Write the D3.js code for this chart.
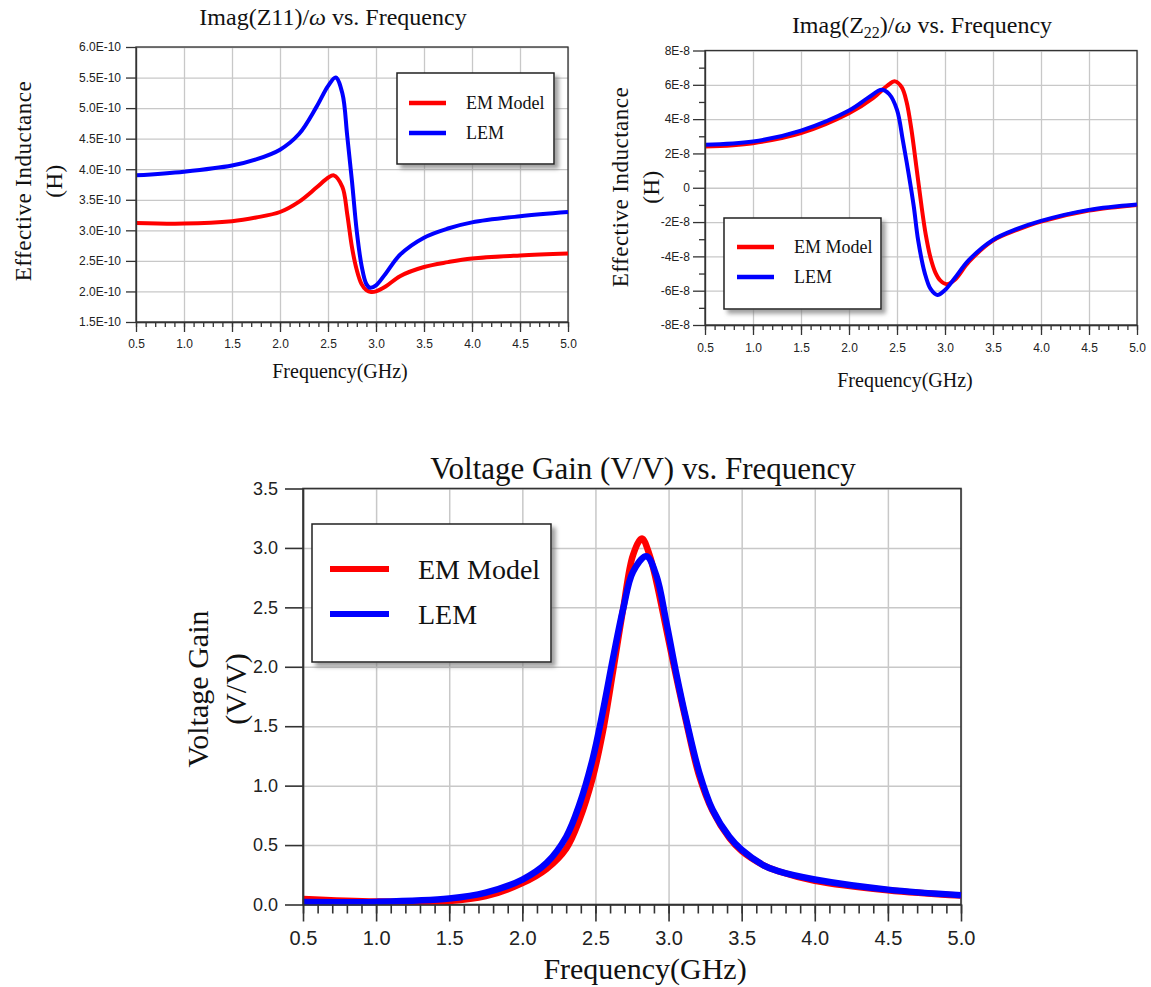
<!DOCTYPE html>
<html>
<head>
<meta charset="utf-8">
<script src="https://cdn.jsdelivr.net/npm/d3@7"></script>
<style>
  body { margin: 0; background: #fff; }
  svg { display: block; }
</style>
</head>
<body>
<svg width="1151" height="987"></svg>
<script>
// ---------------- data ----------------
var xTicks = [0.5, 1.0, 1.5, 2.0, 2.5, 3.0, 3.5, 4.0, 4.5, 5.0];
var xMinorTicks = d3.range(5, 51).map(function (d) { return d / 10; });

// Imag(Z11)/w  (values in 1E-10 H)
var z11Ticks = [1.5, 2.0, 2.5, 3.0, 3.5, 4.0, 4.5, 5.0, 5.5, 6.0];
var z11EmFreq = [0.5, 1.0, 1.5, 1.75, 2.0, 2.2, 2.38, 2.5, 2.56, 2.65, 2.7, 2.75, 2.8, 2.85, 2.9, 2.95, 3.0, 3.1, 3.25, 3.5, 3.75, 4.0, 4.5, 5.0];
var z11EmVal  = [3.12, 3.11, 3.15, 3.21, 3.30, 3.47, 3.70, 3.86, 3.90, 3.71, 3.27, 2.72, 2.35, 2.12, 2.02, 1.99, 2.00, 2.08, 2.25, 2.40, 2.48, 2.54, 2.59, 2.62];
var z11LemFreq = [0.5, 1.0, 1.5, 1.75, 2.0, 2.2, 2.38, 2.5, 2.58, 2.65, 2.7, 2.75, 2.8, 2.85, 2.9, 2.94, 3.0, 3.1, 3.25, 3.5, 3.75, 4.0, 4.5, 5.0];
var z11LemVal  = [3.90, 3.96, 4.06, 4.16, 4.32, 4.58, 5.02, 5.36, 5.50, 5.24, 4.55, 3.80, 2.98, 2.42, 2.12, 2.06, 2.10, 2.29, 2.60, 2.88, 3.03, 3.13, 3.23, 3.30];

// Imag(Z22)/w  (values in 1E-8 H)
var z22Ticks = [-8, -6, -4, -2, 0, 2, 4, 6, 8];
var z22MinorTicks = [-7, -5, -3, -1, 1, 3, 5, 7];
var z22EmFreq = [0.5, 1.0, 1.5, 2.0, 2.25, 2.4, 2.48, 2.55, 2.6, 2.65, 2.7, 2.75, 2.8, 2.85, 2.9, 2.95, 3.02, 3.1, 3.25, 3.5, 3.75, 4.0, 4.5, 5.0];
var z22EmVal  = [2.40, 2.60, 3.18, 4.34, 5.22, 5.95, 6.20, 5.85, 5.00, 3.40, 1.30, -0.85, -2.75, -4.10, -4.95, -5.40, -5.62, -5.38, -4.31, -3.08, -2.46, -1.97, -1.33, -1.00];
var z22LemFreq = [0.5, 1.0, 1.5, 2.0, 2.2, 2.34, 2.42, 2.5, 2.56, 2.62, 2.675, 2.72, 2.79, 2.85, 2.92, 3.0, 3.1, 3.25, 3.5, 3.75, 4.0, 4.5, 5.0];
var z22LemVal  = [2.50, 2.69, 3.33, 4.50, 5.25, 5.71, 5.45, 4.54, 2.79, 0.85, -1.10, -3.05, -4.99, -5.90, -6.25, -5.96, -5.28, -4.21, -3.04, -2.40, -1.93, -1.29, -0.98];

// Voltage gain (V/V)
var gainTicks = [0.0, 0.5, 1.0, 1.5, 2.0, 2.5, 3.0, 3.5];
var gainEmFreq = [0.5, 1.0, 1.5, 1.75, 2.0, 2.166, 2.3, 2.39, 2.48, 2.55, 2.62, 2.69, 2.757, 2.818, 2.87, 2.916, 2.984, 3.05, 3.12, 3.21, 3.3, 3.416, 3.5, 3.65, 3.75, 4.0, 4.5, 5.0];
var gainEmVal  = [0.047, 0.025, 0.03, 0.07, 0.18, 0.30, 0.47, 0.71, 1.06, 1.45, 1.96, 2.49, 2.94, 3.08, 2.94, 2.72, 2.32, 1.93, 1.54, 1.08, 0.79, 0.56, 0.45, 0.33, 0.28, 0.20, 0.12, 0.075];
var gainLemFreq = [0.5, 1.0, 1.5, 1.75, 2.0, 2.166, 2.3, 2.39, 2.48, 2.55, 2.62, 2.69, 2.757, 2.848, 2.916, 2.984, 3.05, 3.12, 3.21, 3.3, 3.416, 3.5, 3.65, 3.75, 4.0, 4.5, 5.0];
var gainLemVal  = [0.02, 0.022, 0.05, 0.10, 0.21, 0.35, 0.57, 0.84, 1.22, 1.62, 2.07, 2.49, 2.80, 2.93, 2.77, 2.38, 1.96, 1.56, 1.11, 0.80, 0.57, 0.46, 0.33, 0.28, 0.21, 0.125, 0.078];

var seriesNames = ["EM Model", "LEM"];
var seriesColors = ["#ff0000", "#0000ff"];

// ---------------- drawing ----------------
var svg = d3.select("svg");
var SERIF = "'Liberation Serif', 'Times New Roman', serif";
var SANS = "'Liberation Sans', Arial, sans-serif";

var defs = svg.append("defs");
defs.append("filter").attr("id", "shadow")
  .attr("x", "-10%").attr("y", "-10%").attr("width", "130%").attr("height", "130%")
  .append("feDropShadow")
  .attr("dx", 4).attr("dy", 4).attr("stdDeviation", 2)
  .attr("flood-color", "#777").attr("flood-opacity", 0.7);

function drawPanel(p) {
  var g = svg.append("g");
  var h = p.bottom - p.top;
  var w = p.right - p.left;
  var x = d3.scaleLinear().domain([0.5, 5]).range([p.left, p.right]);
  var y = d3.scaleLinear().domain(p.yDomain).range([p.bottom, p.top]);

  // grid
  g.append("g").attr("transform", "translate(0," + p.bottom + ")")
    .call(d3.axisBottom(x).tickValues(xTicks).tickSize(-h).tickFormat(""))
    .call(function (s) { s.select(".domain").remove(); })
    .selectAll("line").attr("stroke", "#c8c8c8").attr("stroke-width", p.gridW);
  g.append("g").attr("transform", "translate(" + p.left + ",0)")
    .call(d3.axisLeft(y).tickValues(p.yTicks).tickSize(-w).tickFormat(""))
    .call(function (s) { s.select(".domain").remove(); })
    .selectAll("line").attr("stroke", "#c8c8c8").attr("stroke-width", p.gridW);

  // frame
  g.append("rect")
    .attr("x", p.left).attr("y", p.top).attr("width", w).attr("height", h)
    .attr("fill", "none").attr("stroke", "#333").attr("stroke-width", p.axisW);

  // curves
  var line = d3.line()
    .x(function (d) { return x(d[0]); })
    .y(function (d) { return y(d[1]); })
    .curve(d3.curveCatmullRom.alpha(0.5));
  p.series.forEach(function (s, i) {
    g.append("path")
      .datum(d3.zip(s.f, s.v))
      .attr("d", line)
      .attr("fill", "none")
      .attr("stroke", seriesColors[i])
      .attr("stroke-width", p.lineW)
      .attr("stroke-linejoin", "round");
  });

  // axes
  var yAxis = g.append("g").attr("transform", "translate(" + p.left + ",0)")
    .call(d3.axisLeft(y).tickValues(p.yTicks).tickSize(p.yTickLen).tickSizeOuter(0)
      .tickPadding(p.yPad).tickFormat(p.yFmt));
  if (p.yMinor) {
    g.append("g").attr("transform", "translate(" + p.left + ",0)")
      .call(d3.axisLeft(y).tickValues(p.yMinor).tickSize(p.yMinorLen).tickFormat(""))
      .call(function (s) { s.select(".domain").remove(); })
      .selectAll("line").attr("stroke", "#333").attr("stroke-width", p.axisW);
  }
  var xAxis = g.append("g").attr("transform", "translate(0," + p.bottom + ")")
    .call(d3.axisBottom(x).tickValues(xTicks).tickSize(p.xTickLen).tickSizeOuter(0)
      .tickPadding(p.xPad).tickFormat(function (d) { return d.toFixed(1); }));
  g.append("g").attr("transform", "translate(0," + p.bottom + ")")
    .call(d3.axisBottom(x).tickValues(xMinorTicks).tickSize(p.xMinorLen).tickFormat(""))
    .call(function (s) { s.select(".domain").remove(); })
    .selectAll("line").attr("stroke", "#333").attr("stroke-width", p.axisW);

  [yAxis, xAxis].forEach(function (a) {
    a.attr("font-family", SANS);
    a.select(".domain").attr("stroke", "#333").attr("stroke-width", p.axisW);
    a.selectAll(".tick line").attr("stroke", "#333").attr("stroke-width", p.axisW);
    a.selectAll(".tick text").attr("fill", "#222");
  });
  yAxis.attr("font-size", p.yTickFont);
  xAxis.attr("font-size", p.xTickFont);

  // title
  var t = g.append("text")
    .attr("x", p.titleX).attr("y", p.titleY)
    .attr("text-anchor", "middle")
    .attr("font-family", SERIF).attr("font-size", p.titleFont).attr("fill", "#111");
  p.title(t);

  // axis labels
  p.yLabel.forEach(function (lab) {
    g.append("text")
      .attr("transform", "translate(" + lab.x + "," + p.yLabelY + ") rotate(-90)")
      .attr("text-anchor", "middle")
      .attr("dominant-baseline", "central")
      .attr("font-family", SERIF).attr("font-size", p.yLabelFont).attr("fill", "#111")
      .attr("letter-spacing", p.yLabelSpacing || 0)
      .text(lab.text);
  });
  g.append("text")
    .attr("x", p.xLabelX).attr("y", p.xLabelY)
    .attr("text-anchor", "middle")
    .attr("dominant-baseline", "central")
    .attr("font-family", SERIF).attr("font-size", p.xLabelFont).attr("fill", "#111")
    .text("Frequency(GHz)");

  // legend
  var L = p.legend;
  var lg = g.append("g");
  lg.append("rect")
    .attr("x", L.x0).attr("y", L.y0).attr("width", L.x1 - L.x0).attr("height", L.y1 - L.y0)
    .attr("fill", "#fff").attr("stroke", "#222").attr("stroke-width", 1.5)
    .attr("filter", "url(#shadow)");
  seriesNames.forEach(function (name, i) {
    var yy = L.rows[i];
    lg.append("line")
      .attr("x1", L.lx0).attr("x2", L.lx1).attr("y1", yy).attr("y2", yy)
      .attr("stroke", seriesColors[i]).attr("stroke-width", L.lineW);
    lg.append("text")
      .attr("x", L.tx).attr("y", yy)
      .attr("dominant-baseline", "central")
      .attr("font-family", SERIF).attr("font-size", L.font).attr("fill", "#111")
      .text(name);
  });
}

// top-left panel
drawPanel({
  left: 136, right: 568, top: 47, bottom: 322,
  yDomain: [1.5, 6.0], yTicks: z11Ticks,
  yFmt: function (d) { return d.toFixed(1) + "E-10"; },
  series: [{ f: z11EmFreq, v: z11EmVal }, { f: z11LemFreq, v: z11LemVal }],
  gridW: 1.3, axisW: 1.3, lineW: 4,
  yTickLen: 10, yPad: 5, yTickFont: 12,
  xTickLen: 10, xMinorLen: 5, xPad: 7, xTickFont: 12,
  titleX: 333, titleY: 25, titleFont: 24,
  title: function (t) {
    t.append("tspan").text("Imag(Z11)/");
    t.append("tspan").attr("font-style", "italic").text("\u03C9");
    t.append("tspan").text(" vs. Frequency");
  },
  yLabel: [{ x: 23, text: "Effective Inductance" }, { x: 54, text: "(H)" }],
  yLabelY: 181, yLabelFont: 23, yLabelSpacing: 0.5,
  xLabelX: 340, xLabelY: 371, xLabelFont: 20,
  legend: { x0: 397, x1: 554, y0: 73, y1: 164, rows: [103, 133],
            lx0: 409, lx1: 446, tx: 466, font: 18, lineW: 4.5 }
});

// top-right panel
drawPanel({
  left: 705, right: 1137, top: 50.5, bottom: 325,
  yDomain: [-8, 8], yTicks: z22Ticks, yMinor: z22MinorTicks,
  yFmt: function (d) { return d === 0 ? "0" : d + "E-8"; },
  series: [{ f: z22EmFreq, v: z22EmVal }, { f: z22LemFreq, v: z22LemVal }],
  gridW: 1.3, axisW: 1.3, lineW: 4,
  yTickLen: 12, yPad: 3, yTickFont: 12, yMinorLen: 6,
  xTickLen: 10, xMinorLen: 5, xPad: 8, xTickFont: 12,
  titleX: 922, titleY: 33, titleFont: 24,
  title: function (t) {
    t.append("tspan").text("Imag(Z");
    t.append("tspan").attr("font-size", 16).attr("dy", 5).text("22");
    t.append("tspan").attr("dy", -5).text(")/");
    t.append("tspan").attr("font-style", "italic").text("\u03C9");
    t.append("tspan").text(" vs. Frequency");
  },
  yLabel: [{ x: 620, text: "Effective Inductance" }, { x: 651, text: "(H)" }],
  yLabelY: 187, yLabelFont: 23, yLabelSpacing: 0.5,
  xLabelX: 905, xLabelY: 380, xLabelFont: 20,
  legend: { x0: 724, x1: 881, y0: 218, y1: 309, rows: [247, 277],
            lx0: 737, lx1: 774, tx: 794, font: 18, lineW: 4.5 }
});

// bottom panel
drawPanel({
  left: 303, right: 961, top: 488.5, bottom: 904.5,
  yDomain: [0, 3.5], yTicks: gainTicks,
  yFmt: function (d) { return d.toFixed(1); },
  series: [{ f: gainEmFreq, v: gainEmVal }, { f: gainLemFreq, v: gainLemVal }],
  gridW: 1.5, axisW: 1.6, lineW: 6.5,
  yTickLen: 18, yPad: 7, yTickFont: 18,
  xTickLen: 17, xMinorLen: 9, xPad: 9, xTickFont: 20,
  titleX: 643, titleY: 479, titleFont: 31,
  title: function (t) { t.text("Voltage Gain (V/V) vs. Frequency"); },
  yLabel: [{ x: 197, text: "Voltage Gain" }, { x: 235, text: "(V/V)" }],
  yLabelY: 689, yLabelFont: 30,
  xLabelX: 645, xLabelY: 968, xLabelFont: 30,
  legend: { x0: 312, x1: 551, y0: 524, y1: 662, rows: [569, 614],
            lx0: 330, lx1: 389, tx: 418, font: 28, lineW: 6 }
});
</script>
</body>
</html>
